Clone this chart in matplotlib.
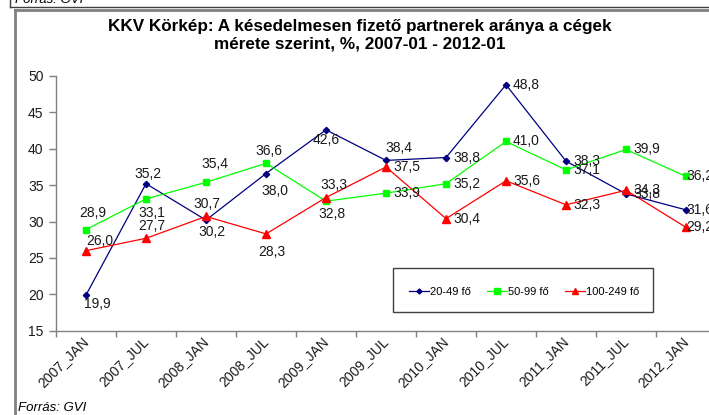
import matplotlib
matplotlib.use("Agg")
import matplotlib.pyplot as plt
from matplotlib.patches import Rectangle
from matplotlib.lines import Line2D

plt.rcParams['font.family'] = ['Liberation Sans', 'DejaVu Sans']

# Data
periods = ["2007_JAN", "2007_JUL", "2008_JAN", "2008_JUL", "2009_JAN", "2009_JUL",
           "2010_JAN", "2010_JUL", "2011_JAN", "2011_JUL", "2012_JAN"]
small_firms = [19.9, 35.2, 30.2, 36.6, 42.6, 38.4, 38.8, 48.8, 38.3, 33.8, 31.6]    # 20-49 fő
medium_firms = [28.9, 33.1, 35.4, 38.0, 32.8, 33.9, 35.2, 41.0, 37.1, 39.9, 36.2]   # 50-99 fő
large_firms = [26.0, 27.7, 30.7, 28.3, 33.3, 37.5, 30.4, 35.6, 32.3, 34.3, 29.2]    # 100-249 fő
series_names = ["20-49 fő", "50-99 fő", "100-249 fő"]

# label placement (pixel offsets from the point), None = to the right of the point
R = None
blue_off = [(11, -9), (2, 10), (6, -12), (3, 23), (0, -10), (13, 12), R, R, R, R, R]
green_off = [(7, 17), (6, -14), (9, 18), (9, -28), (6, -13), R, R, R, R, R, R]
red_off = [(14, 10), (6, 12), (1, 12), (6, -18), (8, 13), R, R, R, R, R, R]

W, H = 709, 415
fig = plt.figure(figsize=(W / 100, H / 100), dpi=100)

# axes placed in pixels, right end runs past the figure edge like the reference crop
left, right, bottom, top = 56, 716, 330.7, 76
ax = fig.add_axes([left / W, 1 - bottom / H, (right - left) / W, (bottom - top) / H])

x = list(range(len(periods)))
styles = [
    (small_firms, "#000080", "D", 3.2, blue_off),
    (medium_firms, "#00FF00", "s", 5, green_off),
    (large_firms, "#FF0000", "^", 5.5, red_off),
]
handles = []
for (vals, col, mk, ms, offs), name in zip(styles, series_names):
    ax.plot(x, vals, color=col, lw=0.9, marker=mk, markersize=ms,
            markeredgecolor=col, markerfacecolor=col, clip_on=False, zorder=3)
    handles.append(Line2D([], [], color=col, lw=0.9, marker=mk, markersize=ms * 0.8,
                          markeredgecolor=col, markerfacecolor=col, label=name))
    for xi, v, off in zip(x, vals, offs):
        txt = f"{v:.1f}".replace(".", ",")
        if off is None:
            # last column: Excel pulled the labels back onto the point
            dx = 0 if xi == x[-1] else 7
            ax.annotate(txt, (xi, v), xytext=(dx, 0), textcoords='offset pixels',
                        ha='left', va='center', fontsize=10, color='#1a1a1a',
                        annotation_clip=False, zorder=4)
        else:
            ax.annotate(txt, (xi, v), xytext=off, textcoords='offset pixels',
                        ha='center', va='center', fontsize=10, color='#1a1a1a',
                        annotation_clip=False, zorder=4)

ax.set_xlim(-0.5, len(periods) - 0.5)
ax.set_ylim(15, 50)
ax.set_yticks(range(15, 51, 5))
ax.set_xticks(x)
ax.set_xticklabels(periods, rotation=45, ha='right', va='center', rotation_mode='anchor',
                   fontsize=10, color='#1a1a1a')
ax.set_xticks([i - 0.5 for i in range(len(periods) + 1)], minor=True)
ax.tick_params(axis='x', which='major', length=0, pad=6)
ax.tick_params(axis='x', which='minor', length=4, width=1, color='#808080', direction='out')
ax.tick_params(axis='y', length=5, width=1, color='#808080', direction='out',
               labelsize=10, labelcolor='#1a1a1a', pad=4)
for s in ['top', 'right']:
    ax.spines[s].set_visible(False)
for s in ['left', 'bottom']:
    ax.spines[s].set_color('#808080')
    ax.spines[s].set_linewidth(1)
ax.patch.set_alpha(0)

# title, two centred lines
fig.text(360 / W, 1 - 26 / H, "KKV Körkép: A késedelmesen fizető partnerek aránya a cégek",
         ha='center', va='center', fontsize=12.3, fontweight='bold')
fig.text(360 / W, 1 - 44 / H, "mérete szerint, %, 2007-01 - 2012-01",
         ha='center', va='center', fontsize=12.3, fontweight='bold')

# legend box
fig.patches.append(Rectangle((393 / W, 1 - 312 / H), 260 / W, 44 / H, transform=fig.transFigure,
                             facecolor='white', edgecolor='#404040', lw=1, zorder=5))
leg = fig.legend(handles=handles, loc='center', bbox_to_anchor=(524 / W, 1 - 292 / H),
                 ncol=3, frameon=False, handlelength=1.8, handletextpad=0.15,
                 columnspacing=1.4, prop={'size': 8})
leg.set_zorder(6)

# chart frame and the cut-off box above it
fig.add_artist(Line2D([15 / W, 15 / W], [0, 1 - 10 / H], color='#808080', lw=2,
                      transform=fig.transFigure))
fig.add_artist(Line2D([15 / W, 1], [1 - 10 / H, 1 - 10 / H], color='#808080', lw=2,
                      transform=fig.transFigure))
fig.add_artist(Line2D([10 / W, 1], [1 - 7 / H, 1 - 7 / H], color='#404040', lw=1,
                      transform=fig.transFigure))
fig.add_artist(Line2D([10 / W, 10 / W], [1 - 7 / H, 1], color='#404040', lw=1,
                      transform=fig.transFigure))
fig.text(15 / W, 1 - 3 / H, "Forrás: GVI", ha='left', va='baseline', fontsize=9.5,
         style='italic')

fig.text(18 / W, 1 - 408 / H, "Forrás: GVI", ha='left', va='center', fontsize=9.5,
         style='italic')

fig.savefig("out.png", dpi=100)
